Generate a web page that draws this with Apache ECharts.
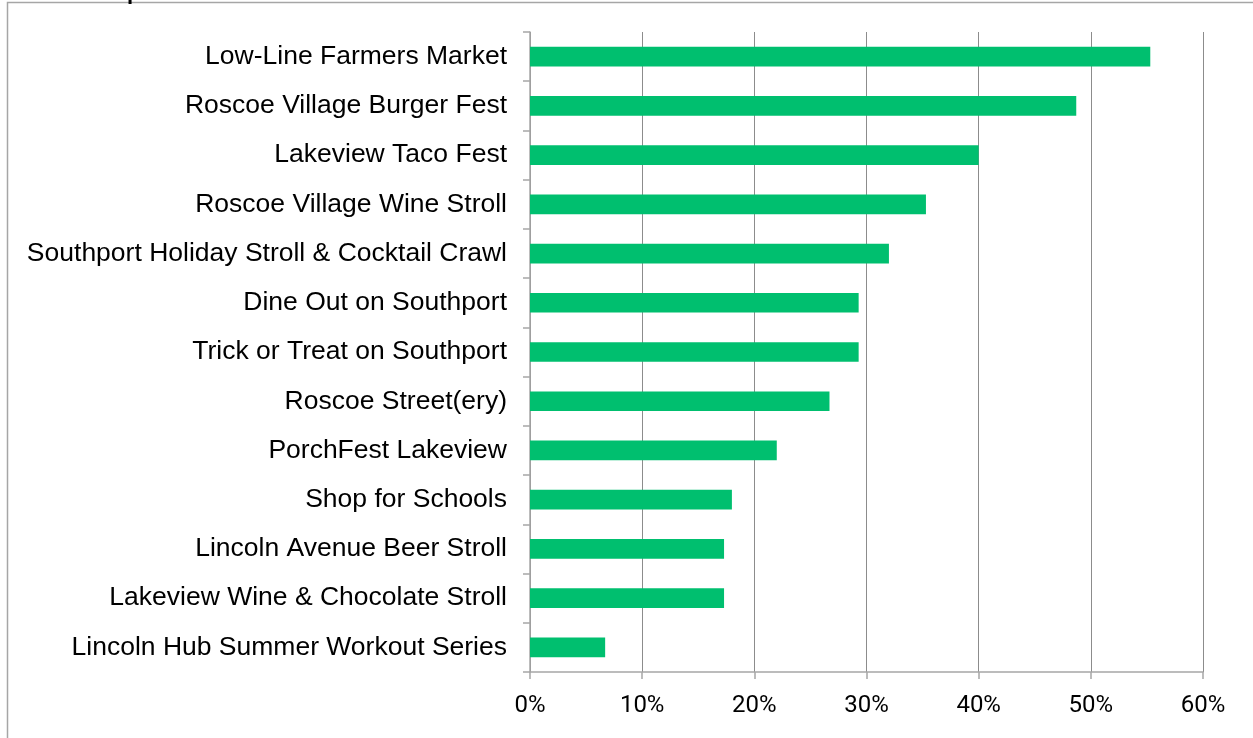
<!DOCTYPE html>
<html>
<head>
<meta charset="utf-8">
<script src="https://cdn.jsdelivr.net/npm/echarts@6/dist/echarts.min.js"></script>
<style>
html,body{margin:0;padding:0;background:#fff;}
#c{width:1253px;height:738px;}
</style>
</head>
<body>
<div id="c"></div>
<script>
const categories = [
  "Low-Line Farmers Market",
  "Roscoe Village Burger Fest",
  "Lakeview Taco Fest",
  "Roscoe Village Wine Stroll",
  "Southport Holiday Stroll & Cocktail Crawl",
  "Dine Out on Southport",
  "Trick or Treat on Southport",
  "Roscoe Street(ery)",
  "PorchFest Lakeview",
  "Shop for Schools",
  "Lincoln Avenue Beer Stroll",
  "Lakeview Wine & Chocolate Stroll",
  "Lincoln Hub Summer Workout Series"
];
const values = [55.3, 48.7, 40.0, 35.3, 32.0, 29.3, 29.3, 26.7, 22.0, 18.0, 17.3, 17.3, 6.7];
const xTicks = [0, 10, 20, 30, 40, 50, 60];

const chart = echarts.init(document.getElementById('c'), null, {renderer: 'canvas'});
chart.setOption({
  animation: false,
  backgroundColor: '#ffffff',
  graphic: [
    {type: 'rect', shape: {x: 7.5, y: 2.5, width: 1260, height: 760}, style: {fill: 'none', stroke: '#a6a6a6', lineWidth: 1.5}, silent: true},
    {type: 'text', left: 127, top: -18, style: {text: 'p', fontSize: 22, fontWeight: 'bold', fontFamily: 'Liberation Sans', fill: '#000'}, silent: true}
  ],
  grid: {left: 530, right: 50, top: 32, bottom: 66, containLabel: false},
  xAxis: {
    type: 'value',
    min: xTicks[0],
    max: xTicks[xTicks.length - 1],
    interval: 10,
    axisLine: {show: true, lineStyle: {color: '#a6a6a6', width: 1.5}},
    axisTick: {show: true, length: 7, lineStyle: {color: '#a6a6a6', width: 1.5}},
    splitLine: {show: true, lineStyle: {color: '#8c8c8c', width: 1}},
    axisLabel: {
      formatter: v => v + '%',
      color: '#000',
      fontSize: 24,
      fontFamily: "Roboto, 'Liberation Sans', sans-serif",
      margin: 22
    }
  },
  yAxis: {
    type: 'category',
    data: categories,
    inverse: true,
    axisLine: {show: true, lineStyle: {color: '#a6a6a6', width: 1.5}},
    axisTick: {show: true, length: 7, lineStyle: {color: '#a6a6a6', width: 1.5}},
    axisLabel: {
      color: '#000',
      fontSize: 26.5,
      fontFamily: "'Liberation Sans', Arial, sans-serif",
      margin: 23
    }
  },
  series: [{
    type: 'bar',
    data: values,
    barWidth: '40%',
    itemStyle: {color: '#00bf6f'}
  }]
});
</script>
</body>
</html>
